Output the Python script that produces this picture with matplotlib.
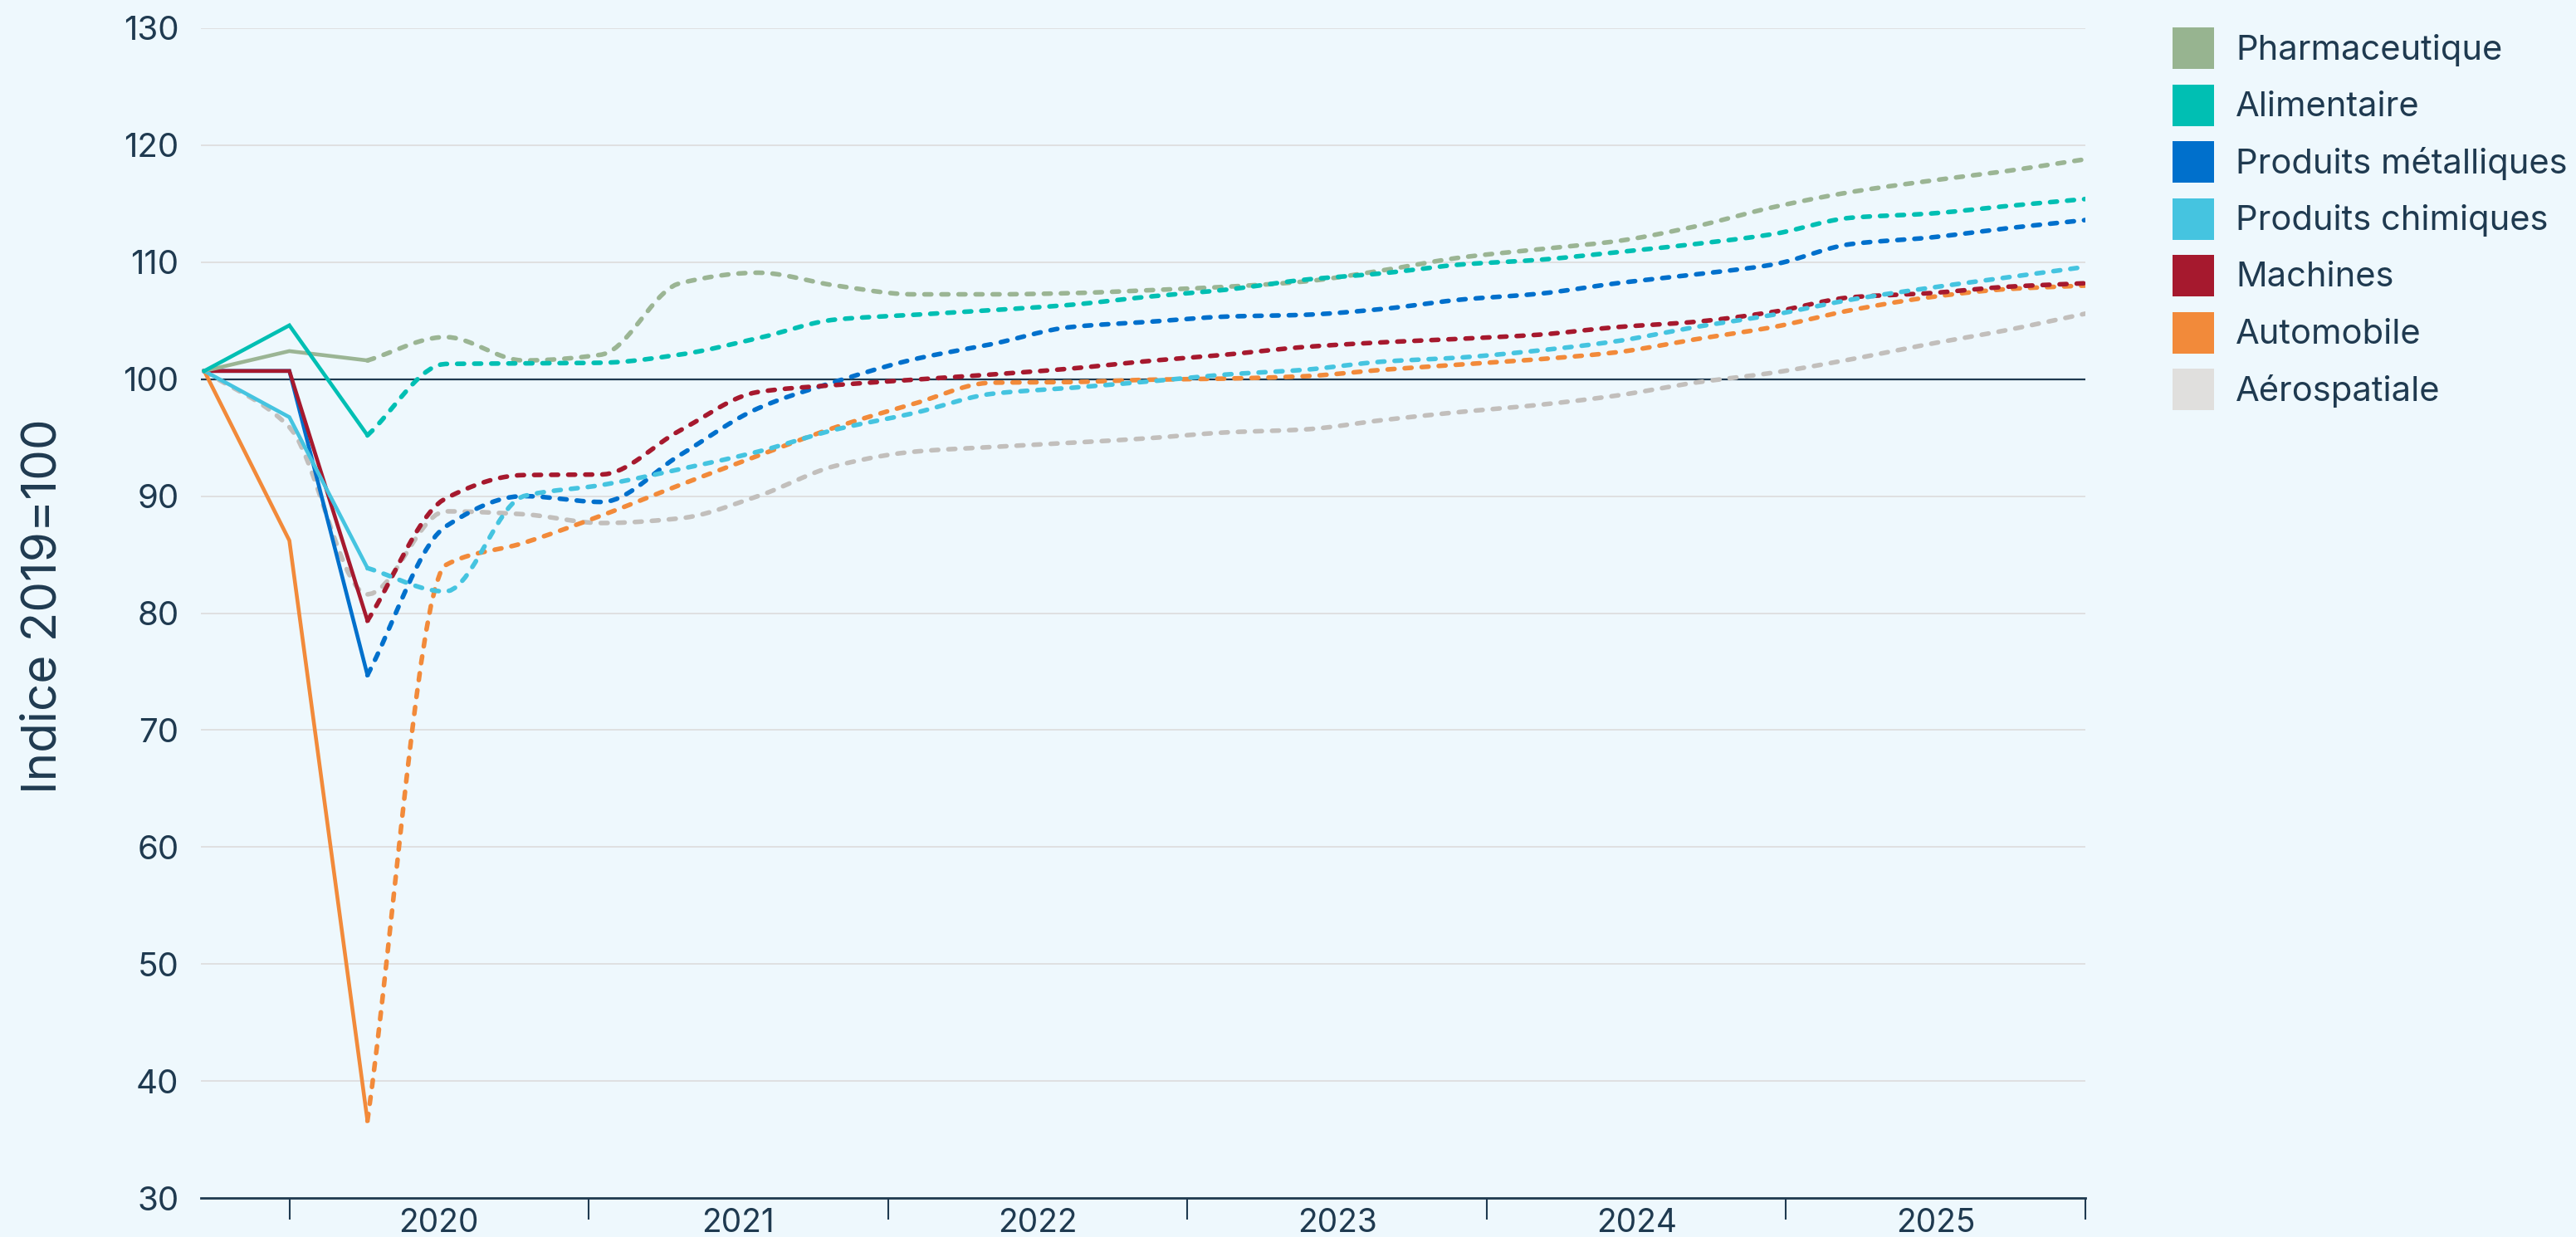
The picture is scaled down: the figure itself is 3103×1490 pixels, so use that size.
import numpy as np
import matplotlib as mpl
mpl.use('Agg')
import matplotlib.pyplot as plt
from matplotlib.patches import Rectangle

plt.rcParams['font.family'] = ['Inter', 'DejaVu Sans']

## data: 2019 (annual) then quarters 2020T1 .. 2025T4, index 2019=100
periods = ['2019'] + [f'{y}T{q}' for y in range(2020, 2026) for q in range(1, 5)]
years = ['2020', '2021', '2022', '2023', '2024', '2025']

pharma = [100.7, 102.4, 101.6, 103.6, 101.6, 102.1, 108.2, 109.1, 108.0, 107.25, 107.25, 107.35, 107.6,
          107.9, 108.35, 109.3, 110.4, 111.1, 111.8, 113.05, 114.7, 116.0, 116.95, 117.8, 118.8]
aliment = [100.7, 104.6, 95.2, 101.3, 101.35, 101.4, 102.1, 103.5, 105.1, 105.5, 105.9, 106.35, 107.05,
           107.65, 108.5, 109.05, 109.8, 110.2, 110.85, 111.55, 112.4, 113.8, 114.15, 114.8, 115.4]
metal = [100.7, 100.7, 74.7, 87.4, 90.0, 89.5, 93.5, 97.5, 99.8, 101.7, 103.0, 104.45, 104.9,
         105.35, 105.5, 106.0, 106.8, 107.3, 108.2, 108.95, 109.8, 111.55, 112.1, 112.9, 113.6]
chimie = [100.7, 96.75, 83.85, 81.85, 90.0, 90.95, 92.3, 93.8, 95.7, 97.1, 98.75, 99.25, 99.8,
          100.4, 100.8, 101.5, 101.85, 102.45, 103.25, 104.45, 105.5, 106.8, 107.8, 108.7, 109.6]
machines = [100.7, 100.7, 79.35, 89.8, 91.8, 91.85, 95.6, 98.9, 99.5, 99.95, 100.4, 100.9, 101.55,
            102.1, 102.75, 103.15, 103.45, 103.8, 104.45, 104.9, 105.75, 107.0, 107.35, 107.9, 108.2]
auto = [100.7, 86.2, 36.6, 84.1, 86.0, 88.35, 90.95, 93.45, 95.9, 97.9, 99.7, 99.75, 99.95,
        100.05, 100.25, 100.8, 101.25, 101.7, 102.3, 103.4, 104.45, 105.9, 107.0, 107.7, 108.0]
aero = [100.7, 95.9, 81.6, 88.7, 88.45, 87.7, 88.1, 90.0, 92.6, 93.8, 94.2, 94.55, 94.95,
        95.45, 95.7, 96.5, 97.2, 97.8, 98.6, 99.7, 100.55, 101.7, 103.0, 104.2, 105.6]

names = ['Pharmaceutique', 'Alimentaire', 'Produits métalliques', 'Produits chimiques',
         'Machines', 'Automobile', 'Aérospatiale']
values = [pharma, aliment, metal, chimie, machines, auto, aero]
n_obs = [3, 3, 3, 3, 3, 3, 0]   # points drawn as solid (observed), rest is forecast

colors = ['#97B490', '#00BFB3', '#0070CC', '#45C4E0', '#A6192E', '#F28A3A', '#E0DFDD']
line_colors = ['#9BB594', '#00BFB3', '#0070CC', '#45C4E0', '#A6192E', '#F28A3A', '#C2BFBC']
draw_order = [6, 5, 2, 4, 3, 0, 1]

bg = '#EEF8FD'
ink = '#1F3A50'
W, H = 3103, 1490


def monotone(x, y, n=16):
    # monotone cubic (Fritsch-Carlson), only used to draw the forecast curves
    x = np.asarray(x, float)
    y = np.asarray(y, float)
    h = np.diff(x)
    d = np.diff(y) / h
    m = np.zeros_like(y)
    m[0], m[-1] = d[0], d[-1]
    for k in range(1, len(y) - 1):
        if d[k-1] * d[k] > 0:
            w1 = 2*h[k] + h[k-1]
            w2 = h[k] + 2*h[k-1]
            m[k] = (w1 + w2) / (w1/d[k-1] + w2/d[k])
    xs, ys = [], []
    for k in range(len(h)):
        t = np.linspace(0, 1, n, endpoint=(k == len(h) - 1))
        h00 = 2*t**3 - 3*t**2 + 1
        h10 = t**3 - 2*t**2 + t
        h01 = -2*t**3 + 3*t**2
        h11 = t**3 - t**2
        xs.append(x[k] + t*h[k])
        ys.append(h00*y[k] + h10*h[k]*m[k] + h01*y[k+1] + h11*h[k]*m[k+1])
    return np.concatenate(xs), np.concatenate(ys)


x = np.arange(len(periods), dtype=float)
x[0] = -0.09   # annual 2019 point sits a bit left of the quarterly grid

fig = plt.figure(figsize=(W/100, H/100), dpi=100, facecolor=bg)
ax = fig.add_axes([242/W, 1-1443/H, (2512-242)/W, (1443-34)/H])
ax.set_facecolor(bg)

for i in draw_order:
    y = values[i]
    n = n_obs[i]
    if n >= 2:
        ax.plot(x[:n], y[:n], color=line_colors[i], lw=3.3, solid_joinstyle='miter', zorder=3)
    s = max(n - 1, 0)
    xs, ys = monotone(x[s:], y[s:])
    ax.plot(xs, ys, color=line_colors[i], lw=4.0, dashes=(1.5, 2.2),
            dash_capstyle='round', zorder=3)

ax.axhline(100, color=ink, lw=1.6, zorder=2)

ax.set_ylim(30, 130)
ax.set_xlim(-0.133, 24)
ax.set_yticks(np.arange(30, 131, 10))
ax.yaxis.grid(True, color='#DEDEDE', lw=1.3)
ax.set_axisbelow(True)
ax.tick_params(axis='y', length=0, pad=19, labelsize=29, labelcolor=ink)

edges = np.linspace(1, 24, len(years) + 1)
ax.set_xticks(edges)
ax.set_xticklabels([])
ax.set_xticks((edges[:-1] + edges[1:]) / 2, minor=True)
ax.set_xticklabels(years, minor=True)
ax.tick_params(axis='x', which='major', length=19, width=1.5, color=ink, direction='out')
ax.tick_params(axis='x', which='minor', length=0, pad=9, labelsize=28, labelcolor=ink)

for sp in ['top', 'right', 'left']:
    ax.spines[sp].set_visible(False)
ax.spines['bottom'].set_color(ink)
ax.spines['bottom'].set_linewidth(2.0)

fig.text(53/W, 1-730/H, 'Indice 2019=100', rotation=90, ha='center', va='center',
         fontsize=42, color=ink)

## legend drawn by hand: square swatches + labels
for i, name in enumerate(names):
    top = 33 + i*68.5
    fig.add_artist(Rectangle((2617/W, 1-(top+50)/H), 50/W, 50/H,
                             transform=fig.transFigure, color=colors[i], lw=0))
    fig.text(2693/W, 1-(top+27)/H, name, ha='left', va='center', fontsize=30, color=ink)

fig.savefig('out.png', dpi=100, facecolor=bg)
